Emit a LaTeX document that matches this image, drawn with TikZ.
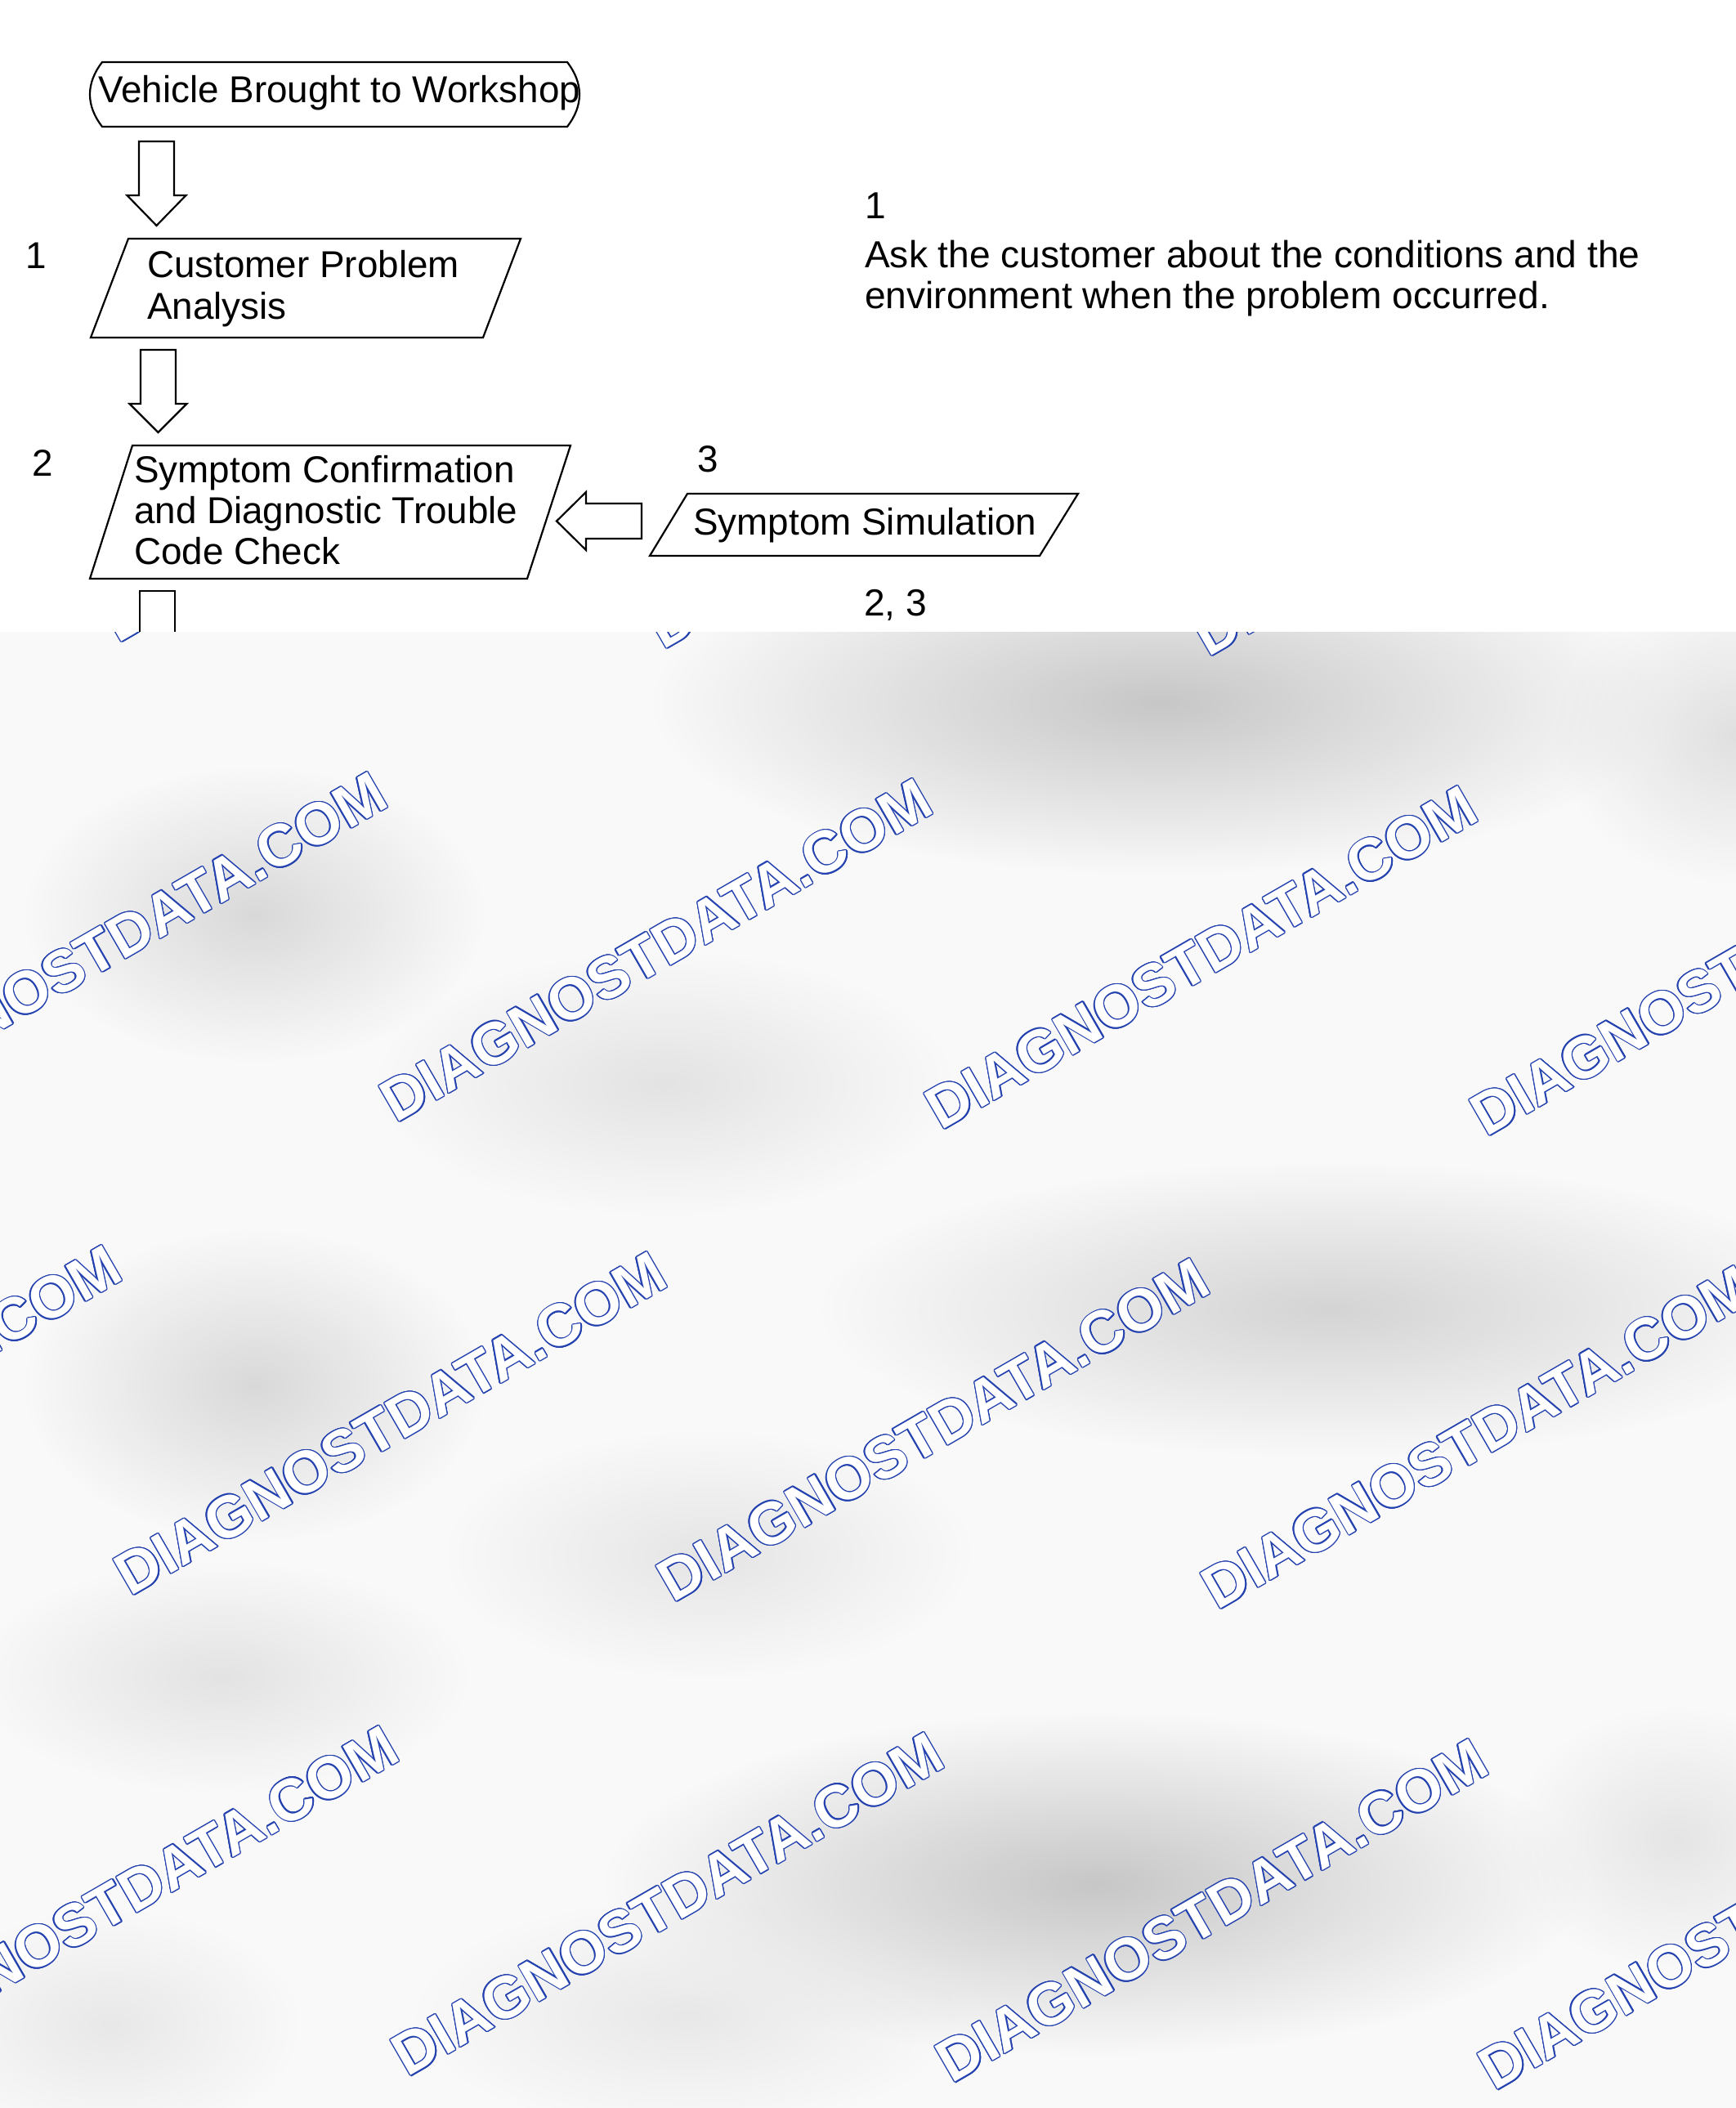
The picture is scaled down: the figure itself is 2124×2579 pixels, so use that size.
\documentclass[tikz,border=0pt]{standalone}
\usepackage{fontspec}
\setmainfont{Liberation Sans}
\usepackage{contour}
\contourlength{1.3pt}
\contournumber{16}
\usetikzlibrary{calc,fadings}
\definecolor{wmblue}{RGB}{35,65,175}
\definecolor{wmbg}{RGB}{249,249,249}
\tikzfading[name=blobfade, inner color=transparent!0, outer color=transparent!100]
\newcommand\blkdown[4]{% #1 top, #2 tip, #3 head length, #4 head half width
  \draw[blk] let \p1=(#1), \p2=(#2) in
    (\x2-21.5pt,\y1) -- (\x2+21.5pt,\y1) -- (\x2+21.5pt,\y2+#3) -- (\x2+#4,\y2+#3)
    -- (\p2) -- (\x2-#4,\y2+#3) -- (\x2-21.5pt,\y2+#3) -- cycle;}
\begin{document}
\begin{tikzpicture}[x=1pt,y=-1pt,
  box/.style={draw=black, line width=2.2pt, fill=white, line join=miter},
  blk/.style={draw=black, line width=2.2pt, fill=white, line join=miter},
  txt/.style={font=\fontsize{45.8}{50}\selectfont, inner sep=0pt, anchor=base west},
  note/.style={txt, font=\fontsize{46.1}{50}\selectfont},
  wm/.style={font=\fontsize{72.5}{72.5}\selectfont\bfseries, text=white, inner sep=0pt, rotate=30},
]
\useasboundingbox (0,0) rectangle (2124,2579);
\fill[white] (0,0) rectangle (2124,2579);

% start terminal
\draw[box] (125,76) -- (694,76) .. controls (714,102) and (714,129) .. (694,155)
  -- (125,155) .. controls (105,129) and (105,102) .. (125,76) -- cycle;
\node[txt] (veh) at (120,126) {Vehicle Brought to Workshop};

% step 1
\draw[box] (157,292) -- (637,292) -- (591,413) -- (111,413) -- cycle;
\node[txt] (cpaA) at (180,340) {Customer Problem};
\node[txt] (cpaB) at (180,390) {Analysis};
\node[txt] (numA) at (31,329) {1};

% step 2
\draw[box] (162,545) -- (698,545) -- (645,708) -- (110,708) -- cycle;
\node[txt] (scA) at (164,590) {Symptom Confirmation};
\node[txt] (scB) at (164,640) {and Diagnostic Trouble};
\node[txt] (scC) at (164,690) {Code Check};
\node[txt] (numB) at (39,582) {2};

% step 3
\draw[box] (841,604) -- (1319,604) -- (1272,680) -- (795,680) -- cycle;
\node[txt] (sim) at (848,654) {Symptom Simulation};
\node[txt] (numC) at (853,577) {3};

% notes
\node[note] (noteN) at (1058,268) {1};
\node[note] (noteA) at (1058,327) {Ask the customer about the conditions and the};
\node[note] (noteB) at (1058,377) {environment when the problem occurred.};
\node[note] (noteC) at (1057,753) {2, 3};

% block arrows
\coordinate (aAtop) at (191.5,173);
\coordinate (aAtip) at (191.5,276);
\blkdown{aAtop}{aAtip}{37pt}{36pt}
\coordinate (aBtop) at (193.5,428);
\coordinate (aBtip) at (193.5,529);
\blkdown{aBtop}{aBtip}{35pt}{35pt}
\coordinate (aCtail) at (785,637.5);
\coordinate (aCtip) at (681,637.5);
\draw[blk] let \p1=(aCtail), \p2=(aCtip) in
  (\x1,\y1+21.5pt) -- (\x2+36pt,\y1+21.5pt) -- (\x2+36pt,\y1+35.5pt) -- (\p2)
  -- (\x2+36pt,\y1-35.5pt) -- (\x2+36pt,\y1-21.5pt) -- (\x1,\y1-21.5pt) -- cycle;
\coordinate (aDtop) at (192.5,723);
\draw[blk, fill=none] let \p1=(aDtop) in
  (\x1-21.5pt,\y1-80pt) -- (\x1-21.5pt,\y1) -- (\x1+21.5pt,\y1) -- (\x1+21.5pt,\y1-80pt);

% grey overlay with watermark
\begin{scope}
\clip (0,773) rectangle (2124,2579);
\fill[wmbg] (0,773) rectangle (2124,2579);
\foreach \cx/\cy/\rx/\ry/\g in {
  1420/860/620/210/20, 2124/900/220/180/10, 312/1119/280/180/13, 813/1326/350/160/9,
  1626/1602/620/180/15, 312/1695/280/190/13, 867/1902/320/150/8,
  271/2052/300/140/9, 1341/2305/600/210/20, 840/2466/330/140/7,
  135/2478/230/140/7, 2050/2250/200/160/8}
  \fill[black!\g!wmbg, path fading=blobfade] (\cx,\cy) ellipse [x radius=\rx pt, y radius=\ry pt];
\foreach \cx/\cy [count=\i] in {
  463/576, 1130/584, 1797/593, 2464/601,
  136/1155, 803/1163, 1470/1172, 2137/1180,
  -189/1734, 478/1742, 1142/1750, 1808/1759,
  150/2322, 817/2330, 1483/2338, 2147/2347}
  \node[wm] (wm\i) at (\cx,\cy) {\contour{wmblue}{DIAGNOSTDATA.COM}};
\end{scope}
\end{tikzpicture}
\end{document}
